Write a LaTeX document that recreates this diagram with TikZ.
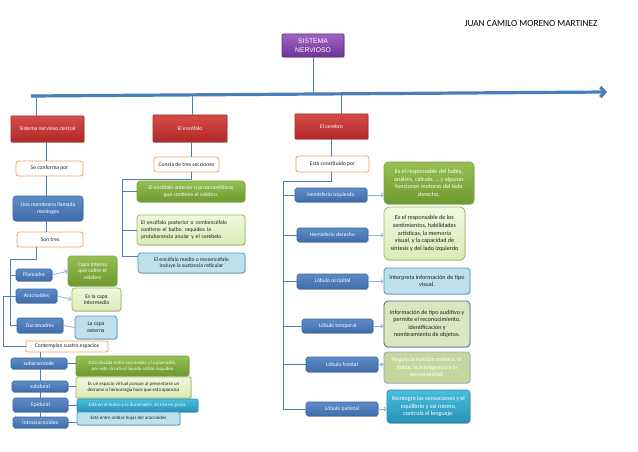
\documentclass[tikz,border=0pt]{standalone}
\usepackage{fontspec}
\setmainfont{Carlito}
\newfontfamily\arialf{Liberation Sans}
\usetikzlibrary{arrows.meta,shadows}
\definecolor{lineblue}{RGB}{74,126,187}
\definecolor{arrblue}{RGB}{142,180,227}
\definecolor{redT}{RGB}{214,76,72}
\definecolor{redB}{RGB}{178,40,40}
\definecolor{redD}{RGB}{160,45,45}
\definecolor{blueT}{RGB}{92,139,199}
\definecolor{blueB}{RGB}{64,110,172}
\definecolor{blueD}{RGB}{58,100,156}
\definecolor{greenT}{RGB}{150,192,82}
\definecolor{greenB}{RGB}{108,152,46}
\definecolor{greenD}{RGB}{125,165,65}
\definecolor{lgreenT}{RGB}{240,247,222}
\definecolor{lgreenB}{RGB}{218,235,182}
\definecolor{lgreenD}{RGB}{155,187,89}
\definecolor{lblueF}{RGB}{190,224,236}
\definecolor{lblueD}{RGB}{80,150,195}
\definecolor{tealT}{RGB}{72,190,220}
\definecolor{tealB}{RGB}{40,145,182}
\definecolor{tealD}{RGB}{44,140,175}
\definecolor{oliveF}{RGB}{196,215,156}
\definecolor{oliveD}{RGB}{147,169,199}
\definecolor{slateF}{RGB}{218,230,192}
\definecolor{slateD}{RGB}{78,106,138}
\definecolor{orangeD}{RGB}{243,160,88}
\definecolor{purpT}{RGB}{160,100,198}
\definecolor{purpB}{RGB}{110,51,145}
\definecolor{purpD}{RGB}{94,45,126}
\definecolor{darktext}{RGB}{30,30,30}
\begin{document}
\begin{tikzpicture}[x=1pt,y=-1pt,
  base/.style={rounded corners=1.8pt, align=center, inner sep=1pt, line width=0.6pt,
    font=\fontsize{5.6}{6.7}\selectfont},
  shad/.style={drop shadow={shadow xshift=0.6pt, shadow yshift=-0.9pt, opacity=0.3, fill=black!60}},
  purplebox/.style={base, shad, rounded corners=1pt, top color=purpT, bottom color=purpB, draw=purpD, text=white,
    font=\arialf\fontsize{6.8}{8.6}\selectfont},
  redbox/.style={base, shad, rounded corners=0.5pt, top color=redT, bottom color=redB, draw=redD, text=white},
  whitebox/.style={base, fill=white, draw=orangeD, line width=0.8pt, rounded corners=2.5pt, text=darktext},
  bluebox/.style={base, shad, top color=blueT, bottom color=blueB, draw=blueD, text=white},
  greenbox/.style={base, shad, rounded corners=3pt, top color=greenT, bottom color=greenB, draw=greenD, text=white},
  lgreenbox/.style={base, shad, rounded corners=3pt, top color=lgreenT, bottom color=lgreenB, draw=lgreenD, line width=0.8pt, text=darktext},
  lbluebox/.style={base, shad, rounded corners=3pt, fill=lblueF, draw=lblueD, line width=0.8pt, text=darktext},
  tealbox/.style={base, shad, rounded corners=2pt, top color=tealT, bottom color=tealB, draw=tealD, text=white},
  olivebox/.style={base, shad, rounded corners=3pt, fill=oliveF, draw=oliveD, line width=0.8pt, text=white},
  slatebox/.style={base, shad, rounded corners=3pt, fill=slateF, draw=slateD, line width=0.8pt, text=darktext},
  bigtxt/.style={font=\fontsize{6.1}{7.6}\selectfont},
  smalltxt/.style={font=\fontsize{4.9}{6}\selectfont},
  conn/.style={draw=lineblue, line width=0.9pt},
  lbarrow/.style={draw=arrblue, line width=0.8pt, -{Straight Barb[length=2.2pt,width=4pt]}},
  lbline/.style={draw=arrblue, line width=0.8pt},
  mainarrow/.style={draw=lineblue, line width=3.2pt, -{Straight Barb[length=4.5pt,width=10pt]}}
]
\useasboundingbox (0,0) rectangle (638,452);
\fill[white] (0,0) rectangle (638,452);

% title and root
\node[font=\fontsize{9.3}{11}\selectfont, text=black, inner sep=0pt] (autor) at (531,24) {JUAN CAMILO MORENO MARTINEZ};
\node[purplebox, minimum width=62pt, minimum height=23pt] (sn) at (313,45.5) {SISTEMA\\NERVIOSO};

% main arrow
\coordinate (arL) at (31,96);
\coordinate (arR) at (607,92);
\coordinate (d0) at (313,94.1);
\coordinate (d1) at (36,96);
\coordinate (d2) at (192,94.9);
\coordinate (d3) at (341,93.9);
\draw[mainarrow] (arL) -- (arR);
\draw[conn] (sn.south) -- (d0);

% ===== left column
\node[redbox, minimum width=73pt, minimum height=26pt] (snc) at (47.5,129) {Sistema nervioso central};
\node[whitebox, minimum width=67pt, minimum height=15pt] (seconf) at (49.5,168.5) {Se conforma por};
\node[bluebox, minimum width=70pt, minimum height=25pt, rounded corners=3pt] (menin) at (48,208.5) {Una membrana llamada\\meninges};
\node[whitebox, minimum width=66pt, minimum height=15pt] (sontres) at (50,239.5) {Son tres};
\node[bluebox, minimum width=36pt, minimum height=12pt] (pia) at (34,275) {Piamadre};
\node[greenbox, minimum width=49pt, minimum height=30pt] (capaint) at (92.5,271) {Capa interna\\que cubre el\\celebro};
\node[bluebox, minimum width=41pt, minimum height=14pt] (arac) at (36.5,296) {Aracnoides};
\node[lgreenbox, minimum width=49pt, minimum height=23pt] (interm) at (96.5,299.5) {Es la capa\\intermedia};
\node[bluebox, minimum width=46pt, minimum height=15pt] (dura) at (40,325.5) {Duramadres};
\node[lbluebox, minimum width=42pt, minimum height=23pt] (extern) at (96,327.5) {La capa\\externa};
\node[whitebox, minimum width=82pt, minimum height=11pt, rounded corners=2pt] (contem) at (67,346.5) {Contemplan cuatro espacios};
\node[bluebox, minimum width=56pt, minimum height=11pt] (subara) at (39,363.5) {subaracnoide};
\node[bluebox, minimum width=56pt, minimum height=11pt] (subdu) at (40,386.5) {subdural};
\node[bluebox, minimum width=55pt, minimum height=14pt] (epi) at (40.5,405) {Epidural};
\node[bluebox, minimum width=55pt, minimum height=11pt] (intra) at (40.5,422.5) {intraaracnoideo};
\node[greenbox, smalltxt, minimum width=113pt, minimum height=20pt, rounded corners=2pt] (tsub) at (132.5,366) {Está situada entre aracnoides y la piamadre,\\por este circula el líquido cefalo raquideo};
\node[lgreenbox, smalltxt, minimum width=115pt, minimum height=21pt, rounded corners=2pt] (tdur) at (133.5,387.5) {Es un espacio virtual porque al presentarse un\\derrame o hemorragia hace que esta aparezca};
\node[tealbox, smalltxt, minimum width=121pt, minimum height=13pt] (tepi) at (137.5,405.5) {Está en el hueso y la duramadre. Es rico en grasa.};
\node[lbluebox, smalltxt, minimum width=103pt, minimum height=13pt, rounded corners=2pt] (tintra) at (128.5,418.5) {Está entre ambas hojas del aracnoides};

\coordinate (jv) at (46,150);
\draw[conn] (d1) -- (d1 |- snc.north);
\draw[conn] (snc.south -| jv) -- (seconf.north -| jv);
\draw[conn] (seconf.south -| jv) -- (menin.north -| jv);
\draw[conn] (menin.south -| jv) -- (sontres.north -| jv);
\coordinate (ja) at (10,259);
\coordinate (jb) at (36,259);
\draw[conn] (sontres.south -| jb) -- (jb) -- (ja) |- (dura.west);
\draw[conn] (ja |- pia.west) -- (pia.west);
\coordinate (jc) at (3,296);
\draw[conn] (arac.west) -- (jc) |- (contem.west);
\coordinate (jd) at (40,352);
\draw[conn] (contem.south -| jd) -- (jd |- subara.north);
\draw[conn] (subara.south -| jd) -- (jd |- subdu.north);
\draw[conn] (subdu.south -| jd) -- (jd |- epi.north);
\draw[conn] (epi.south -| jd) -- (jd |- intra.north);
\draw[lbarrow] (pia.east) -- (capaint.west);
\draw[lbarrow] (arac.east) -- (interm.west);
\draw[lbline] (dura.east) -- (extern.west);
\draw[conn] (subara.east) -- (subara.east -| tsub.west);
\draw[conn] (subdu.east) -- (subdu.east -| tdur.west);
\draw[conn] (epi.east) -- (epi.east -| tepi.west);
\draw[conn] (intra.east) -- (intra.east -| tintra.west);

% ===== middle column
\node[redbox, minimum width=74pt, minimum height=27pt] (encef) at (190,128.5) {El encéfalo};
\node[whitebox, minimum width=65pt, minimum height=15pt] (consta) at (186.5,164.5) {Consta de tres secciones};
\node[greenbox, minimum width=108pt, minimum height=21pt] (ant) at (191,191.5) {El encéfalo anterior o prosencefálicos\\que contiene el celebro.};
\node[lgreenbox, minimum width=108pt, minimum height=30pt, align=left, text width=100pt] (post) at (191,230) {El encéfalo posterior o rombencéfalo\\contiene el bulbo, raquídeo la\\protuberancia anular y el cerebelo.};
\node[lbluebox, minimum width=107pt, minimum height=20pt] (medio) at (191.5,263) {El encéfalo medio o mesencéfalo\\incluye la sustancia reticular};

\draw[conn] (d2) -- (d2 |- encef.north);
\coordinate (je) at (191,179);
\coordinate (jf) at (122,179);
\draw[conn] (encef.south -| je) -- (je |- consta.north);
\draw[conn] (consta.south -| je) -- (je) -- (jf) |- ([yshift=7pt]medio.west);
\draw[conn] (jf |- ant.west) -- (ant.west);
\draw[conn] (jf |- post.west) -- (post.west);

% ===== right column
\node[redbox, minimum width=73pt, minimum height=25pt] (cereb) at (331.5,126.5) {El cerebro};
\node[whitebox, minimum width=73pt, minimum height=16pt] (constit) at (332.5,164) {Está constituido por};
\node[bluebox, minimum width=72pt, minimum height=14pt] (hizq) at (331,195) {Hemisferio izquierdo};
\node[bluebox, minimum width=71pt, minimum height=14pt] (hder) at (332.5,235) {Hemisferio derecho};
\node[bluebox, minimum width=71pt, minimum height=15pt] (occ) at (332.5,281.5) {Lóbulo occipital};
\node[bluebox, minimum width=71pt, minimum height=14pt] (temp) at (337.5,326) {Lóbulo temporal};
\node[bluebox, minimum width=72pt, minimum height=15pt] (front) at (342,364.5) {Lóbulo frontal};
\node[bluebox, minimum width=72pt, minimum height=14pt] (pari) at (342,409) {Lóbulo parietal};
\node[greenbox, bigtxt, minimum width=90pt, minimum height=42pt, rounded corners=4pt] (thizq) at (429,183) {Es el responsable del habla,\\análisis, cálculo, … y algunas\\funciones motoras del lado\\derecho.};
\node[lgreenbox, bigtxt, minimum width=81pt, minimum height=53pt, rounded corners=5pt] (thder) at (424.5,233.5) {Es el responsable de los\\sentimientos, habilidades\\artísticas, la memoria\\visual, y la capacidad de\\síntesis y del lado izquierdo};
\node[lbluebox, bigtxt, minimum width=86pt, minimum height=26pt] (tocc) at (427,281) {Interpreta información de tipo\\visual.};
\node[slatebox, bigtxt, minimum width=86pt, minimum height=46pt, rounded corners=4pt] (ttemp) at (427,324) {Información de tipo auditivo y\\permite el reconocimiento,\\identificación y\\nombramiento de objetos.};
\node[olivebox, bigtxt, minimum width=86pt, minimum height=31pt] (tfront) at (427,367.5) {Regula la función motora, el\\habla, la inteligencia y la\\personalidad.};
\node[tealbox, bigtxt, minimum width=83pt, minimum height=33pt, rounded corners=3pt] (tpari) at (428.5,406.5) {Reintegra las sensaciones y el\\equilibrio y así mismo,\\controla el lenguaje.};

\draw[conn] (d3) -- (d3 |- cereb.north);
\coordinate (jg) at (331,181);
\coordinate (jh) at (283,181);
\draw[conn] (cereb.south -| jg) -- (jg |- constit.north);
\draw[conn] (constit.south -| jg) -- (jg) -- (jh) |- (pari.west);
\draw[conn] (jh |- hizq.west) -- (hizq.west);
\draw[conn] (jh |- hder.west) -- (hder.west);
\draw[conn] (jh |- occ.west) -- (occ.west);
\draw[conn] (jh |- temp.west) -- (temp.west);
\draw[conn] (jh |- front.west) -- (front.west);
\draw[lbarrow] (hizq.east) -- (hizq.east -| thizq.west);
\draw[lbarrow] (hder.east) -- (hder.east -| thder.west);
\draw[lbarrow] (occ.east) -- (occ.east -| tocc.west);
\draw[lbarrow] (temp.east) -- (temp.east -| ttemp.west);
\draw[lbarrow] (front.east) -- (front.east -| tfront.west);
\draw[lbarrow] (pari.east) -- (pari.east -| tpari.west);
\end{tikzpicture}
\end{document}
